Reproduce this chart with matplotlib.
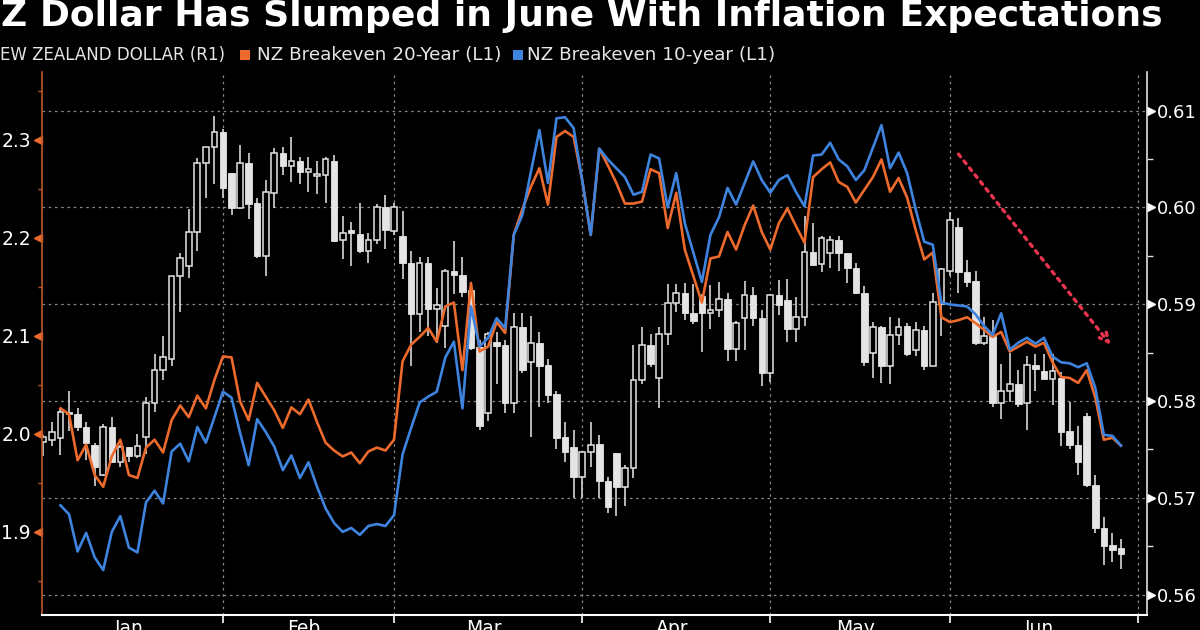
import matplotlib.pyplot as plt
from matplotlib.patches import Rectangle
from matplotlib.transforms import blended_transform_factory, offset_copy

plt.rcParams['font.family'] = 'DejaVu Sans'

# trading-day index for each candle, months start at these indices
months = ['Jan', 'Feb', 'Mar', 'Apr', 'May', 'Jun']
month_starts = [0, 21, 41, 63, 85, 106, 128]

# NZD/USD daily candles (R1)
nzd_open = [0.5758, 0.5760, 0.5762, 0.5789, 0.5786, 0.5773, 0.5754, 0.5724, 0.5773, 0.5737,
            0.5752, 0.5743, 0.5763, 0.5798, 0.5832, 0.5843, 0.5929, 0.5939, 0.5975, 0.6046,
            0.6062, 0.6078, 0.6035, 0.5999, 0.6046, 0.6004, 0.5950, 0.6015, 0.6056, 0.6043,
            0.6048, 0.6037, 0.6032, 0.6033, 0.6048, 0.5966, 0.5977, 0.5972, 0.5955, 0.5966,
            0.6000, 0.5976, 0.5970, 0.5943, 0.5890, 0.5942, 0.5895, 0.5877, 0.5934, 0.5930,
            0.5915, 0.5856, 0.5788, 0.5861, 0.5858, 0.5798, 0.5876, 0.5840, 0.5860, 0.5837,
            0.5807, 0.5763, 0.5752, 0.5721, 0.5747, 0.5756, 0.5717, 0.5746, 0.5711, 0.5731,
            0.5822, 0.5858, 0.5824, 0.5869, 0.5901, 0.5912, 0.5891, 0.5908, 0.5891, 0.5894,
            0.5905, 0.5854, 0.5886, 0.5909, 0.5886, 0.5829, 0.5909, 0.5904, 0.5874, 0.5887,
            0.5954, 0.5941, 0.5953, 0.5966, 0.5953, 0.5937, 0.5912, 0.5850, 0.5876, 0.5836,
            0.5868, 0.5877, 0.5853, 0.5873, 0.5836, 0.5900, 0.5934, 0.5980, 0.5933, 0.5924,
            0.5860, 0.5867, 0.5798, 0.5810, 0.5818, 0.5798, 0.5837, 0.5831, 0.5823, 0.5824,
            0.5769, 0.5755, 0.5784, 0.5713, 0.5669, 0.5651, 0.5648]
nzd_high = [0.5765, 0.5778, 0.5793, 0.5810, 0.5793, 0.5778, 0.5757, 0.5776, 0.5783, 0.5755,
            0.5752, 0.5766, 0.5804, 0.5848, 0.5867, 0.5929, 0.5953, 0.5998, 0.6051, 0.6062,
            0.6094, 0.6081, 0.6035, 0.6064, 0.6056, 0.6010, 0.6028, 0.6061, 0.6062, 0.6073,
            0.6052, 0.6052, 0.6048, 0.6052, 0.6054, 0.5991, 0.5985, 0.6005, 0.5974, 0.6003,
            0.6013, 0.6005, 0.5996, 0.5955, 0.5949, 0.5949, 0.5917, 0.5936, 0.5965, 0.5949,
            0.5920, 0.5863, 0.5871, 0.5871, 0.5863, 0.5891, 0.5891, 0.5888, 0.5871, 0.5843,
            0.5810, 0.5778, 0.5770, 0.5748, 0.5778, 0.5765, 0.5721, 0.5746, 0.5734, 0.5858,
            0.5876, 0.5869, 0.5876, 0.5921, 0.5921, 0.5922, 0.5921, 0.5910, 0.5920, 0.5923,
            0.5912, 0.5883, 0.5924, 0.5918, 0.5894, 0.5910, 0.5925, 0.5926, 0.5907, 0.5991,
            0.5984, 0.5970, 0.5970, 0.5970, 0.5953, 0.5943, 0.5919, 0.5882, 0.5877, 0.5887,
            0.5886, 0.5881, 0.5882, 0.5877, 0.5912, 0.5937, 0.5995, 0.5989, 0.5946, 0.5934,
            0.5887, 0.5884, 0.5838, 0.5850, 0.5832, 0.5846, 0.5848, 0.5848, 0.5848, 0.5830,
            0.5799, 0.5774, 0.5788, 0.5724, 0.5680, 0.5664, 0.5657]
nzd_low = [0.5743, 0.5753, 0.5744, 0.5769, 0.5769, 0.5739, 0.5712, 0.5722, 0.5736, 0.5732,
           0.5737, 0.5741, 0.5745, 0.5789, 0.5822, 0.5836, 0.5892, 0.5927, 0.5955, 0.6010,
           0.6024, 0.6010, 0.5992, 0.5998, 0.5988, 0.5948, 0.5929, 0.5999, 0.6033, 0.6026,
           0.6024, 0.6016, 0.6014, 0.6005, 0.5964, 0.5947, 0.5939, 0.5953, 0.5943, 0.5962,
           0.5957, 0.5971, 0.5926, 0.5836, 0.5871, 0.5867, 0.5860, 0.5855, 0.5910, 0.5907,
           0.5853, 0.5770, 0.5779, 0.5817, 0.5788, 0.5788, 0.5829, 0.5763, 0.5794, 0.5798,
           0.5750, 0.5737, 0.5700, 0.5700, 0.5732, 0.5700, 0.5684, 0.5681, 0.5691, 0.5720,
           0.5817, 0.5835, 0.5793, 0.5858, 0.5892, 0.5884, 0.5879, 0.5851, 0.5874, 0.5887,
           0.5841, 0.5841, 0.5853, 0.5877, 0.5815, 0.5820, 0.5889, 0.5861, 0.5861, 0.5877,
           0.5939, 0.5933, 0.5937, 0.5934, 0.5922, 0.5910, 0.5836, 0.5824, 0.5819, 0.5817,
           0.5858, 0.5846, 0.5846, 0.5832, 0.5836, 0.5867, 0.5929, 0.5912, 0.5918, 0.5858,
           0.5858, 0.5794, 0.5781, 0.5799, 0.5794, 0.5770, 0.5810, 0.5823, 0.5796, 0.5753,
           0.5750, 0.5724, 0.5711, 0.5664, 0.5631, 0.5634, 0.5626]
nzd_close = [0.5763, 0.5768, 0.5789, 0.5786, 0.5773, 0.5757, 0.5732, 0.5773, 0.5737, 0.5752,
             0.5743, 0.5753, 0.5798, 0.5832, 0.5845, 0.5929, 0.5948, 0.5975, 0.6046, 0.6062,
             0.6078, 0.6020, 0.5999, 0.6046, 0.6003, 0.5950, 0.6016, 0.6056, 0.6043, 0.6048,
             0.6036, 0.6040, 0.6034, 0.6050, 0.5965, 0.5974, 0.5974, 0.5955, 0.5966, 0.6000,
             0.5977, 0.6000, 0.5942, 0.5890, 0.5942, 0.5895, 0.5899, 0.5934, 0.5930, 0.5913,
             0.5855, 0.5774, 0.5869, 0.5857, 0.5798, 0.5876, 0.5832, 0.5860, 0.5836, 0.5806,
             0.5762, 0.5747, 0.5721, 0.5747, 0.5754, 0.5717, 0.5690, 0.5711, 0.5731, 0.5822,
             0.5858, 0.5838, 0.5869, 0.5901, 0.5912, 0.5891, 0.5883, 0.5891, 0.5894, 0.5905,
             0.5854, 0.5881, 0.5909, 0.5886, 0.5829, 0.5909, 0.5899, 0.5874, 0.5887, 0.5954,
             0.5940, 0.5968, 0.5966, 0.5953, 0.5937, 0.5912, 0.5840, 0.5876, 0.5836, 0.5868,
             0.5876, 0.5849, 0.5873, 0.5836, 0.5902, 0.5936, 0.5987, 0.5933, 0.5923, 0.5860,
             0.5867, 0.5798, 0.5810, 0.5818, 0.5797, 0.5837, 0.5833, 0.5823, 0.5831, 0.5768,
             0.5755, 0.5737, 0.5713, 0.5669, 0.5650, 0.5646, 0.5642]

# breakeven inflation (L1), first value on day 2
be_first_day = 2
be20 = [2.026, 2.020, 1.973, 1.989, 1.958, 1.946, 1.977, 1.994, 1.958, 1.955,
        1.986, 1.994, 1.981, 2.014, 2.029, 2.017, 2.039, 2.026, 2.055, 2.079,
        2.078, 2.033, 2.014, 2.052, 2.038, 2.024, 2.006, 2.027, 2.020, 2.035,
        2.012, 1.991, 1.983, 1.977, 1.981, 1.970, 1.982, 1.986, 1.983, 1.994,
        2.074, 2.091, 2.099, 2.108, 2.094, 2.130, 2.134, 2.065, 2.154, 2.084,
        2.089, 2.114, 2.103, 2.203, 2.229, 2.252, 2.271, 2.234, 2.303, 2.309,
        2.303, 2.259, 2.203, 2.291, 2.274, 2.256, 2.235, 2.235, 2.237, 2.270,
        2.266, 2.210, 2.246, 2.188, 2.161, 2.134, 2.179, 2.181, 2.206, 2.188,
        2.213, 2.233, 2.206, 2.188, 2.215, 2.230, 2.212, 2.195, 2.262, 2.270,
        2.277, 2.257, 2.252, 2.236, 2.249, 2.262, 2.280, 2.247, 2.261, 2.241,
        2.208, 2.178, 2.185, 2.119, 2.114, 2.116, 2.119, 2.113, 2.106, 2.099,
        2.104, 2.084, 2.089, 2.094, 2.089, 2.093, 2.073, 2.058, 2.057, 2.052,
        2.065, 2.037, 1.994, 1.996, 1.988]
be10 = [1.927, 1.918, 1.880, 1.899, 1.874, 1.861, 1.900, 1.916, 1.884, 1.879,
        1.930, 1.942, 1.929, 1.982, 1.990, 1.972, 2.007, 1.991, 2.017, 2.043,
        2.037, 2.001, 1.968, 2.015, 2.002, 1.987, 1.963, 1.978, 1.955, 1.971,
        1.946, 1.924, 1.909, 1.900, 1.904, 1.897, 1.906, 1.908, 1.906, 1.917,
        1.979, 2.006, 2.032, 2.038, 2.043, 2.078, 2.094, 2.026, 2.130, 2.089,
        2.098, 2.118, 2.108, 2.203, 2.223, 2.267, 2.310, 2.256, 2.322, 2.323,
        2.312, 2.259, 2.203, 2.291, 2.280, 2.271, 2.262, 2.244, 2.247, 2.285,
        2.281, 2.231, 2.266, 2.215, 2.185, 2.155, 2.203, 2.221, 2.251, 2.234,
        2.256, 2.278, 2.259, 2.246, 2.259, 2.264, 2.247, 2.232, 2.284, 2.285,
        2.297, 2.280, 2.273, 2.259, 2.269, 2.292, 2.315, 2.271, 2.287, 2.266,
        2.229, 2.196, 2.193, 2.134, 2.132, 2.131, 2.130, 2.122, 2.110, 2.101,
        2.123, 2.086, 2.093, 2.098, 2.092, 2.098, 2.079, 2.073, 2.072, 2.068,
        2.072, 2.047, 1.999, 1.998, 1.988]

be_ticks = [1.9, 2.0, 2.1, 2.2, 2.3]
nzd_ticks = [0.56, 0.57, 0.58, 0.59, 0.60, 0.61]

# trend arrow drawn on the chart: (day, NZD level)
arrow_from = (107.0, 0.6055)
arrow_to = (124.8, 0.5858)

orange = '#ec6a2c'
blue = '#3e84de'
axis_orange = '#b8582c'
light = '#e4e4e4'
grid_col = '#8a8a8a'

fig = plt.figure(figsize=(12, 6.3), dpi=100, facecolor='black')
ax = fig.add_axes([0.035, 0.024, 0.921, 0.862])
ax2 = ax.twinx()
ax.set_zorder(ax2.get_zorder() + 1)
ax.patch.set_visible(False)

# candles on the right axis
days = list(range(len(nzd_open)))
for d, o, h, l, c in zip(days, nzd_open, nzd_high, nzd_low, nzd_close):
    ax2.vlines(d, l, h, color='#d6d6d6', lw=1.2, zorder=2)
    body = max(abs(c - o), 0.00006)
    if c >= o:
        ax2.bar(d, body, bottom=min(o, c), width=0.66, facecolor='black',
                edgecolor=light, linewidth=1.1, zorder=3)
    else:
        ax2.bar(d, body, bottom=min(o, c), width=0.76, facecolor=light,
                edgecolor=light, linewidth=0.6, zorder=3)

# breakeven lines on the left axis
be_days = list(range(be_first_day, be_first_day + len(be20)))
ax.plot(be_days, be20, color=orange, lw=1.9, zorder=4)
ax.plot(be_days, be10, color=blue, lw=1.9, zorder=5)

# limits
ax.set_xlim(-0.16, 129.07)
ax.set_ylim(1.8153, 2.3694)

# grid
ax2.set_yticks(nzd_ticks)
ax2.yaxis.grid(True, which='major', linestyle=(0, (2, 3)), color=grid_col, lw=0.9, zorder=0)
ax2.set_axisbelow(True)
for m in month_starts[1:]:
    ax2.axvline(m, linestyle=(0, (2, 3)), color=grid_col, lw=0.9, zorder=0.5)

# x axis
ax.set_xticks(month_starts[1:], labels=[''] * len(month_starts[1:]))
centers = [(a + b - 1) / 2 for a, b in zip(month_starts[:-1], month_starts[1:])]
ax.set_xticks(centers, labels=months, minor=True)
ax.tick_params(axis='x', which='major', length=6, width=1.2, color='white')
ax.tick_params(axis='x', which='minor', length=0, pad=3, labelsize=13.5, labelcolor='white')

# left axis
ax.set_yticks(be_ticks, labels=['%.1f' % t for t in be_ticks])
ax.set_yticks([t - 0.05 for t in be_ticks] + [2.35], minor=True)
ax.tick_params(axis='y', which='major', length=0, pad=8, labelsize=13.5, labelcolor='white')
ax.tick_params(axis='y', which='minor', length=3, width=1, color=axis_orange)
left_tr = offset_copy(blended_transform_factory(ax.transAxes, ax.transData),
                      fig=fig, x=-4, y=0, units='dots')
ax.plot([0] * len(be_ticks), be_ticks, ls='none', marker='<', ms=6, color=orange,
        transform=left_tr, clip_on=False)

# right axis
ax2.set_yticks(nzd_ticks, labels=['%.2f' % t for t in nzd_ticks])
ax2.set_yticks([t + 0.005 for t in nzd_ticks[:-1]], minor=True)
ax2.tick_params(axis='y', which='major', length=0, pad=7, labelsize=13, labelcolor='white')
ax2.tick_params(axis='y', which='minor', length=4, width=1, color='#dddddd')
right_tr = offset_copy(blended_transform_factory(ax2.transAxes, ax2.transData),
                       fig=fig, x=4, y=0, units='dots')
ax2.plot([1] * len(nzd_ticks), nzd_ticks, ls='none', marker='>', ms=6, color='white',
         transform=right_tr, clip_on=False)
ax2.set_ylim(0.5579, 0.6140)

# spines
for s in ['top', 'right']:
    ax.spines[s].set_visible(False)
for s in ['top', 'left', 'bottom']:
    ax2.spines[s].set_visible(False)
ax.spines['left'].set_color(axis_orange)
ax.spines['left'].set_linewidth(1.2)
ax.spines['bottom'].set_color('white')
ax.spines['bottom'].set_linewidth(1.5)
ax2.spines['right'].set_color('#e0e0e0')
ax2.spines['right'].set_linewidth(1.2)

# arrow
ax2.annotate('', xy=arrow_to, xytext=arrow_from,
             arrowprops=dict(arrowstyle='->', linestyle=':', lw=2.4, color='#e8344f',
                             mutation_scale=16, shrinkA=0, shrinkB=0), zorder=6)

# title and legend
fig.text(0.001, 1 - 26 / 630, 'Z Dollar Has Slumped in June With Inflation Expectations',
         color='white', fontsize=26, fontweight='bold', va='baseline', ha='left')
leg_y = 1 - 55 / 630
fig.text(0.0, leg_y, 'EW ZEALAND DOLLAR (R1)', color='#e6e6e6', fontsize=12, va='center')
fig.patches.append(Rectangle((240 / 1200, leg_y - 5 / 630), 10 / 1200, 10 / 630,
                             transform=fig.transFigure, facecolor=orange, edgecolor='none'))
fig.text(257 / 1200, leg_y, 'NZ Breakeven 20-Year (L1)', color='#e6e6e6', fontsize=13.2, va='center')
fig.patches.append(Rectangle((513 / 1200, leg_y - 5 / 630), 10 / 1200, 10 / 630,
                             transform=fig.transFigure, facecolor=blue, edgecolor='none'))
fig.text(527 / 1200, leg_y, 'NZ Breakeven 10-year (L1)', color='#e6e6e6', fontsize=13.2, va='center')

fig.savefig('out.png', dpi=100, facecolor='black')
